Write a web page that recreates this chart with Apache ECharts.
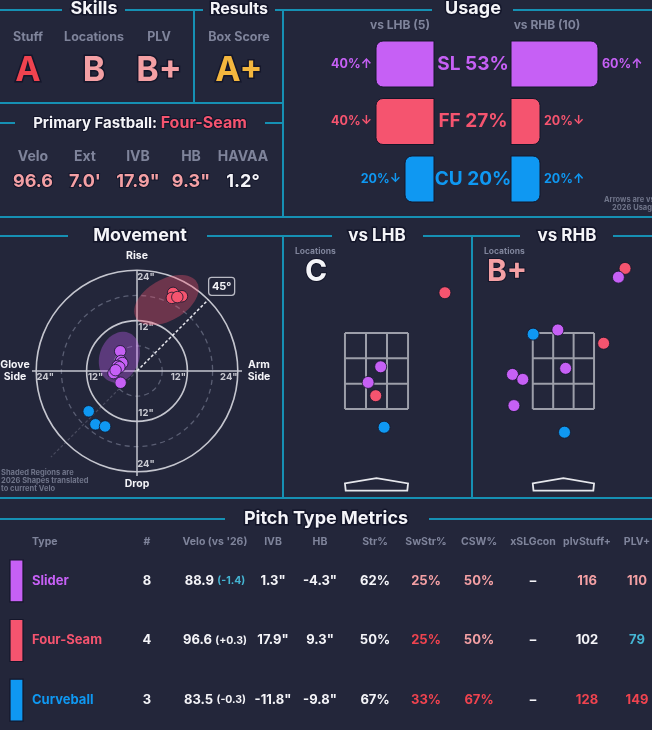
<!DOCTYPE html>
<html><head><meta charset="utf-8">
<script src="https://cdn.jsdelivr.net/npm/echarts@6/dist/echarts.min.js"></script>
<style>html,body{margin:0;padding:0;background:#23263a;}#c{width:652px;height:730px;}</style>
</head><body><div id="c"></div>
<script>
// ---------------- DATA ----------------
const pitchCodes = ['SL', 'FF', 'CU'];
const pitchNames = ['Slider', 'Four-Seam', 'Curveball'];
const usageOverall = [53, 27, 20];
const usageLHB = [40, 40, 20];
const usageRHB = [60, 20, 20];
const arrowLHB = ['↑', '↓', '↓'];
const arrowRHB = ['↑', '↓', '↑'];
const usageHeads = ['vs LHB (5)', 'vs RHB (10)'];

const skillLabels = ['Stuff', 'Locations', 'PLV'];
const skillGrades = ['A', 'B', 'B+'];
const resultLabels = ['Box Score'];
const resultGrades = ['A+'];
const fbName = 'Four-Seam';
const fbLabels = ['Velo', 'Ext', 'IVB', 'HB', 'HAVAA'];
const fbValues = ['96.6', "7.0'", '17.9"', '9.3"', '1.2°'];

// movement (HB, IVB in inches)
const mvSL = [[-4.0, 4.7], [-3.8, 2.4], [-3.5, 1.9], [-4.6, 1.2], [-4.2, 0.9], [-5.6, -0.5], [-5.1, 0.2], [-3.9, -2.8]];
const mvFF = [[8.6, 18.6], [10.7, 17.8], [8.3, 17.4], [9.6, 17.6]];
const mvCU = [[-11.5, -9.6], [-9.9, -12.7], [-7.6, -13.2]];
// 2026 shapes: centerHB, centerIVB, semiA, semiB, angleDeg
const shapeSL = [-4.2, 3.3, 6.2, 4.7, 70];
const shapeFF = [7.0, 16.9, 8.4, 4.9, 30];
const mvRings = [24, 18, 12, 6];
const mvTicks = [12, 24];
const armAngle = 45;

// locations (plate_x, plate_z in feet)
const locGradeLHB = 'C';
const locGradeRHB = 'B+';
const locLHB_SL = [[0.11, 2.61], [-0.22, 2.20]];
const locLHB_FF = [[1.80, 4.56], [-0.02, 1.85]];
const locLHB_CU = [[0.20, 1.02]];
const locRHB_SL = [[1.49, 4.97], [-0.15, 3.58], [0.06, 2.57], [-1.38, 2.41], [-1.10, 2.28], [-1.34, 1.59]];
const locRHB_FF = [[1.67, 5.20], [1.09, 3.23]];
const locRHB_CU = [[-0.82, 3.47], [0.03, 0.89]];
const zoneX = [-0.83, 0.83];
const zoneZ = [1.5, 3.5];

// table
const tblHeads = ['Type', '#', "Velo (vs '26)", 'IVB', 'HB', 'Str%', 'SwStr%', 'CSW%', 'xSLGcon', 'plvStuff+', 'PLV+'];
const tblCount = ['8', '4', '3'];
const tblVelo = ['88.9', '96.6', '83.5'];
const tblVeloDiff = ['(-1.4)', '(+0.3)', '(-0.3)'];
const tblIVB = ['1.3"', '17.9"', '-11.8"'];
const tblHB = ['-4.3"', '9.3"', '-9.8"'];
const tblStr = ['62%', '50%', '67%'];
const tblSwStr = ['25%', '25%', '33%'];
const tblCSW = ['50%', '50%', '67%'];
const tblXSLG = ['–', '–', '–'];
const tblStuff = ['116', '102', '128'];
const tblPLV = ['110', '79', '149'];

// ---------------- STYLE ----------------
const FONT = 'Inter, "DejaVu Sans", sans-serif';
const BG = '#23263a', TEAL = '#1690b3', GRAY = '#7f849b', WHITE = '#f4f4f8';
const PINK = '#f4a0a4', RED = '#f0434f', GOLD = '#f4b73e', CYAN = '#45b5d3', OUT = '#14162a';
const PCOL = ['#c660f5', '#f5546f', '#0f98f2'];
const gradeColor = { 'A+': GOLD, 'A': RED, 'B+': PINK, 'B': PINK, 'C': WHITE };
const colSwStr = [PINK, RED, RED], colCSW = [PINK, PINK, RED], colStuff = [PINK, WHITE, RED], colPLV = [PINK, CYAN, RED];
const colVeloDiff = [CYAN, WHITE, WHITE];
const colX = [32, 147, 215, 273, 320, 375, 426, 479, 533, 587, 637];

const chart = echarts.init(document.getElementById('c'), null, { renderer: 'canvas', width: 652, height: 730 });

function font(size, w) { return (w || 'bold') + ' ' + size + 'px ' + FONT; }
function txt(x, y, text, o) {
  o = o || {};
  const st = { text: text, fill: o.color || WHITE, font: font(o.size || 12, o.weight), textAlign: o.align || 'center', textVerticalAlign: 'middle' };
  if (o.lw) { st.stroke = OUT; st.lineWidth = o.lw; st.strokeFirst = true; }
  if (o.rich) st.rich = o.rich;
  return { type: 'text', x: x, y: y, silent: true, z: 20, style: st };
}
function hl(x1, x2, y) { return { type: 'line', silent: true, z: 5, shape: { x1: x1, y1: y, x2: x2, y2: y }, style: { stroke: TEAL, lineWidth: 2 } }; }
function vl(x, y1, y2) { return { type: 'line', silent: true, z: 5, shape: { x1: x, y1: y1, x2: x, y2: y2 }, style: { stroke: TEAL, lineWidth: 2 } }; }

const graphics = [
  hl(0, 62, 10), hl(125, 203, 10), hl(275, 432, 10), hl(513, 652, 10),
  vl(194, 10, 103), vl(283, 10, 217), hl(0, 283, 103), hl(0, 15, 123), hl(265, 283, 123), hl(0, 652, 217),
  hl(0, 68, 236), hl(207, 332, 236), hl(423, 520, 236), hl(613, 652, 236),
  vl(283, 236, 498), vl(472, 236, 498), hl(0, 652, 498),
  hl(0, 225, 519), hl(429, 652, 519),
  txt(94, 9, 'Skills', { size: 18, lw: 3 }),
  txt(239, 9, 'Results', { size: 16, lw: 3 }),
  txt(473, 9, 'Usage', { size: 18, lw: 3 }),
  txt(140, 236, 'Movement', { size: 18, lw: 3 }),
  txt(377, 236, 'vs LHB', { size: 17, lw: 3 }),
  txt(567, 236, 'vs RHB', { size: 17, lw: 3 }),
  txt(326, 519, 'Pitch Type Metrics', { size: 18, lw: 3 }),
  txt(140, 123, '{a|Primary Fastball: }{b|' + fbName + '}', { size: 15, lw: 2, rich: {
    a: { fill: WHITE, font: font(15) }, b: { fill: PCOL[1], font: font(16) } } }),
  txt(400, 25, usageHeads[0], { size: 12, color: GRAY }),
  txt(547, 25, usageHeads[1], { size: 12, color: GRAY }),
  txt(604, 200, 'Arrows are vs', { size: 7.5, color: '#6f7489', align: 'left' }),
  txt(612, 208, '2026 Usage', { size: 7.5, color: '#6f7489', align: 'left' }),
  txt(1, 473, 'Shaded Regions are', { size: 7.5, color: '#6f7489', align: 'left' }),
  txt(1, 481, '2026 Shapes translated', { size: 7.5, color: '#6f7489', align: 'left' }),
  txt(1, 489, 'to current Velo', { size: 7.5, color: '#6f7489', align: 'left' }),
  txt(295, 251, 'Locations', { size: 8.5, color: GRAY, align: 'left' }),
  txt(484, 251, 'Locations', { size: 8.5, color: GRAY, align: 'left' }),
  txt(305, 272, locGradeLHB, { size: 30, color: gradeColor[locGradeLHB], align: 'left', lw: 2 }),
  txt(487, 272, locGradeRHB, { size: 30, color: gradeColor[locGradeRHB], align: 'left', lw: 2 })
];
const skillX = [28, 94, 159];
skillLabels.forEach((l, i) => {
  graphics.push(txt(skillX[i], 37, l, { size: 12.5, color: GRAY }));
  graphics.push(txt(skillX[i], 71, skillGrades[i], { size: 34, color: gradeColor[skillGrades[i]], lw: 3 }));
});
resultLabels.forEach((l, i) => {
  graphics.push(txt(239, 37, l, { size: 12.5, color: GRAY }));
  graphics.push(txt(239, 71, resultGrades[i], { size: 34, color: gradeColor[resultGrades[i]], lw: 3 }));
});
const fbX = [33, 85, 138, 191, 243];
fbLabels.forEach((l, i) => {
  graphics.push(txt(fbX[i], 157, l, { size: 14, color: GRAY }));
  graphics.push(txt(fbX[i], 182, fbValues[i], { size: 18, color: i === 4 ? WHITE : PINK, lw: 2 }));
});
tblHeads.forEach((h, i) => {
  graphics.push(txt(colX[i], 542, h, { size: 10.5, color: GRAY, align: i === 0 ? 'left' : 'center' }));
});

// ---------------- RENDERERS ----------------
function usageRender(arrows, isLeft) {
  return function (params, api) {
    const i = params.dataIndex, v = api.value(0);
    const p0 = api.coord([0, i]), p1 = api.coord([v, i]);
    const h = api.size([0, 1])[1] * 0.8;
    const x = Math.min(p0[0], p1[0]), w = Math.abs(p1[0] - p0[0]);
    const col = PCOL[i];
    const ch = [
      { type: 'rect', shape: { x: x, y: p0[1] - h / 2, width: w, height: h, r: isLeft ? [7, 0, 0, 7] : [0, 7, 7, 0] }, style: { fill: col, stroke: OUT, lineWidth: 1 } },
      { type: 'text', x: isLeft ? x - 4 : x + w + 4, y: p0[1], style: { text: v + '%' + arrows[i], fill: col, font: font(12.5), textAlign: isLeft ? 'right' : 'left', textVerticalAlign: 'middle' } }
    ];
    if (isLeft) ch.push({ type: 'text', x: p0[0] + 39, y: p0[1], style: { text: pitchCodes[i] + ' ' + usageOverall[i] + '%', fill: col, font: font(19), textAlign: 'center', textVerticalAlign: 'middle' } });
    return { type: 'group', children: ch };
  };
}

function moveDecor(params, api) {
  const c = api.coord([0, 0]);
  const px = v => api.size([v, 0])[0];
  const ch = [];
  const LG = '#c5c6cf';
  mvRings.forEach(r => {
    const dashed = (r % 12) !== 0;
    ch.push({ type: 'circle', shape: { cx: c[0], cy: c[1], r: px(r) }, style: { fill: 'none', stroke: dashed ? '#5a5e73' : LG, lineWidth: dashed ? 1.3 : 1.6, lineDash: dashed ? [5, 4] : null } });
  });
  let a = api.coord([-25, 0]), b = api.coord([25, 0]);
  ch.push({ type: 'line', shape: { x1: a[0], y1: a[1], x2: b[0], y2: b[1] }, style: { stroke: LG, lineWidth: 1.5 } });
  a = api.coord([0, -25]); b = api.coord([0, 24]);
  ch.push({ type: 'line', shape: { x1: a[0], y1: a[1], x2: b[0], y2: b[1] }, style: { stroke: LG, lineWidth: 1.5 } });
  const rad = armAngle * Math.PI / 180;
  const outer = mvRings[0];
  b = api.coord([outer * Math.cos(rad), outer * Math.sin(rad)]);
  ch.push({ type: 'line', shape: { x1: c[0], y1: c[1], x2: b[0], y2: b[1] }, style: { stroke: '#e8e8ee', lineWidth: 1.5, lineDash: [3, 2] } });
  b = api.coord([-29 * Math.cos(rad), -29 * Math.sin(rad)]);
  ch.push({ type: 'line', shape: { x1: c[0], y1: c[1], x2: b[0], y2: b[1] }, style: { stroke: 'rgba(170,170,185,0.28)', lineWidth: 1.2, lineDash: [3, 2] } });
  const bx = api.coord([28.5 * Math.cos(rad), 28.5 * Math.sin(rad)]);
  ch.push({ type: 'rect', shape: { x: bx[0] - 13, y: bx[1] - 9, width: 26, height: 18, r: 3 }, style: { fill: BG, stroke: '#b9bac4', lineWidth: 1.3 } });
  ch.push({ type: 'text', x: bx[0], y: bx[1], style: { text: armAngle + '°', fill: WHITE, font: font(11), textAlign: 'center', textVerticalAlign: 'middle' } });
  const tf = font(9.5), tc = '#c9cad2';
  mvTicks.forEach(t => {
    const lab = t + '"';
    let p = api.coord([0, t]);
    ch.push({ type: 'text', x: p[0] + 9, y: p[1] + 7, style: { text: lab, fill: tc, font: tf, textAlign: 'center', textVerticalAlign: 'middle' } });
    p = api.coord([0, -t]);
    ch.push({ type: 'text', x: p[0] + 9, y: p[1] - 8, style: { text: lab, fill: tc, font: tf, textAlign: 'center', textVerticalAlign: 'middle' } });
    p = api.coord([-t, 0]);
    ch.push({ type: 'text', x: p[0] + 9, y: p[1] + 6, style: { text: lab, fill: tc, font: tf, textAlign: 'center', textVerticalAlign: 'middle' } });
    p = api.coord([t, 0]);
    ch.push({ type: 'text', x: p[0] - 9, y: p[1] + 6, style: { text: lab, fill: tc, font: tf, textAlign: 'center', textVerticalAlign: 'middle' } });
  });
  let p = api.coord([0, outer]);
  ch.push({ type: 'text', x: p[0], y: p[1] - 14, style: { text: 'Rise', fill: WHITE, font: font(10.5), textAlign: 'center', textVerticalAlign: 'middle' } });
  p = api.coord([0, -outer]);
  ch.push({ type: 'text', x: p[0], y: p[1] + 12, style: { text: 'Drop', fill: WHITE, font: font(10.5), textAlign: 'center', textVerticalAlign: 'middle' } });
  ch.push({ type: 'text', x: 15, y: c[1], style: { text: 'Glove\nSide', fill: WHITE, font: font(10.5), lineHeight: 12, textAlign: 'center', textVerticalAlign: 'middle' } });
  ch.push({ type: 'text', x: 259, y: c[1], style: { text: 'Arm\nSide', fill: WHITE, font: font(10.5), lineHeight: 12, textAlign: 'center', textVerticalAlign: 'middle' } });
  return { type: 'group', children: ch };
}

function shapeRender(params, api) {
  const cx = api.value(0), cy = api.value(1), A = api.value(2), B = api.value(3), ang = api.value(4) * Math.PI / 180;
  const col = PCOL[api.value(5)];
  const pts = [];
  for (let k = 0; k < 60; k++) {
    const t = k / 60 * Math.PI * 2;
    const x = A * Math.cos(t), y = B * Math.sin(t);
    pts.push(api.coord([cx + x * Math.cos(ang) - y * Math.sin(ang), cy + x * Math.sin(ang) + y * Math.cos(ang)]));
  }
  return { type: 'polygon', shape: { points: pts }, style: { fill: col, opacity: 0.35 } };
}

function zoneRender(params, api) {
  const ch = [];
  const st = { stroke: '#9c9ea9', lineWidth: 2 };
  const dx = (zoneX[1] - zoneX[0]) / 3, dz = (zoneZ[1] - zoneZ[0]) / 3;
  for (let k = 0; k <= 3; k++) {
    let a = api.coord([zoneX[0] + k * dx, zoneZ[0]]), b = api.coord([zoneX[0] + k * dx, zoneZ[1]]);
    ch.push({ type: 'line', shape: { x1: a[0], y1: a[1], x2: b[0], y2: b[1] }, style: st });
    a = api.coord([zoneX[0], zoneZ[0] + k * dz]); b = api.coord([zoneX[1], zoneZ[0] + k * dz]);
    ch.push({ type: 'line', shape: { x1: a[0], y1: a[1], x2: b[0], y2: b[1] }, style: st });
  }
  const plate = [[-0.83, -0.46], [0, -0.32], [0.83, -0.46], [0.81, -0.65], [-0.81, -0.65]].map(p => api.coord(p));
  ch.push({ type: 'polygon', shape: { points: plate }, style: { fill: 'none', stroke: '#e6e7ec', lineWidth: 1.8 } });
  return { type: 'group', children: ch };
}

function tableRender(params, api) {
  const i = params.dataIndex;
  const y = api.coord([0, i])[1];
  const col = PCOL[i];
  const T = (x, text, c, al) => ({ type: 'text', x: x, y: y, style: { text: text, fill: c, font: font(13), textAlign: al || 'center', textVerticalAlign: 'middle' } });
  return { type: 'group', children: [
    { type: 'rect', shape: { x: 10, y: y - 21, width: 13, height: 42 }, style: { fill: col, stroke: OUT, lineWidth: 1.2 } },
    T(colX[0], pitchNames[i], col, 'left'),
    T(colX[1], tblCount[i], WHITE),
    { type: 'text', x: colX[2], y: y, style: { text: '{v|' + tblVelo[i] + '} {d|' + tblVeloDiff[i] + '}', textAlign: 'center', textVerticalAlign: 'middle',
      rich: { v: { fill: WHITE, font: font(13) }, d: { fill: colVeloDiff[i], font: font(10.5) } } } },
    T(colX[3], tblIVB[i], WHITE),
    T(colX[4], tblHB[i], WHITE),
    T(colX[5], tblStr[i], WHITE),
    T(colX[6], tblSwStr[i], colSwStr[i]),
    T(colX[7], tblCSW[i], colCSW[i]),
    T(colX[8], tblXSLG[i], WHITE),
    T(colX[9], tblStuff[i], colStuff[i]),
    T(colX[10], tblPLV[i], colPLV[i])
  ] };
}

function scatter(name, data, xi, colorIdx, size, z) {
  return { type: 'scatter', name: name, xAxisIndex: xi, yAxisIndex: xi, data: data, symbolSize: size, z: z || 5, silent: true,
    itemStyle: { color: PCOL[colorIdx], borderColor: 'rgba(20,22,42,0.8)', borderWidth: 1, opacity: 1 } };
}

const option = {
  backgroundColor: BG,
  animation: false,
  textStyle: { fontFamily: FONT },
  graphic: { elements: graphics },
  grid: [
    { left: 347, top: 35.25, width: 87, height: 172.5 },
    { left: 511, top: 35.25, width: 87, height: 172.5 },
    { left: 11, top: 245, width: 252, height: 252 },
    { left: 285.3, top: 238, width: 182.4, height: 266 },
    { left: 474.8, top: 238, width: 182.4, height: 266 },
    { left: 0, top: 551, width: 652, height: 186 }
  ],
  xAxis: [
    { gridIndex: 0, type: 'value', min: 0, max: 60, inverse: true, show: false },
    { gridIndex: 1, type: 'value', min: 0, max: 60, show: false },
    { gridIndex: 2, type: 'value', min: -30, max: 30, show: false },
    { gridIndex: 3, type: 'value', min: -2.4, max: 2.4, show: false },
    { gridIndex: 4, type: 'value', min: -2.4, max: 2.4, show: false },
    { gridIndex: 5, type: 'value', min: 0, max: 652, show: false }
  ],
  yAxis: [
    { gridIndex: 0, type: 'category', data: pitchCodes, inverse: true, show: false },
    { gridIndex: 1, type: 'category', data: pitchCodes, inverse: true, show: false },
    { gridIndex: 2, type: 'value', min: -30, max: 30, show: false },
    { gridIndex: 3, type: 'value', min: -1, max: 6, show: false },
    { gridIndex: 4, type: 'value', min: -1, max: 6, show: false },
    { gridIndex: 5, type: 'category', data: pitchNames, inverse: true, show: false }
  ],
  series: [
    { type: 'custom', xAxisIndex: 0, yAxisIndex: 0, silent: true, clip: false, data: usageLHB.map((v, i) => [v, i]), renderItem: usageRender(arrowLHB, true), z: 4 },
    { type: 'custom', xAxisIndex: 1, yAxisIndex: 1, silent: true, clip: false, data: usageRHB.map((v, i) => [v, i]), renderItem: usageRender(arrowRHB, false), z: 4 },
    { type: 'custom', xAxisIndex: 2, yAxisIndex: 2, silent: true, clip: false, data: [[0, 0]], renderItem: moveDecor, z: 1 },
    { type: 'custom', xAxisIndex: 2, yAxisIndex: 2, silent: true, clip: false, data: [shapeSL.concat([0]), shapeFF.concat([1])], renderItem: shapeRender, z: 2 },
    scatter('FF', mvFF, 2, 1, 11.5), scatter('SL', mvSL, 2, 0, 11.5), scatter('CU', mvCU, 2, 2, 11.5),
    { type: 'custom', xAxisIndex: 3, yAxisIndex: 3, silent: true, clip: false, data: [[0, 0]], renderItem: zoneRender, z: 1 },
    { type: 'custom', xAxisIndex: 4, yAxisIndex: 4, silent: true, clip: false, data: [[0, 0]], renderItem: zoneRender, z: 1 },
    scatter('FF', locLHB_FF, 3, 1, 12), scatter('SL', locLHB_SL, 3, 0, 12), scatter('CU', locLHB_CU, 3, 2, 12),
    scatter('FF', locRHB_FF, 4, 1, 12), scatter('SL', locRHB_SL, 4, 0, 12), scatter('CU', locRHB_CU, 4, 2, 12),
    { type: 'custom', xAxisIndex: 5, yAxisIndex: 5, silent: true, clip: false, data: pitchNames.map((n, i) => [0, i]), renderItem: tableRender, z: 4 }
  ]
};
chart.setOption(option);
</script></body></html>
